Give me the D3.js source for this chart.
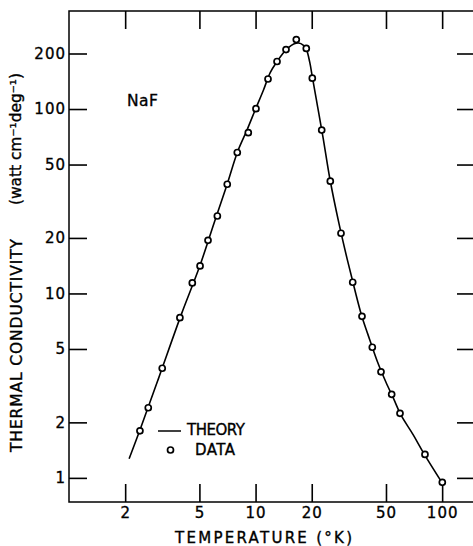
<!DOCTYPE html>
<html>
<head>
<meta charset="utf-8">
<script src="https://cdn.jsdelivr.net/npm/d3@7"></script>
<style>
	body { margin: 0; background: white; }
	text { font-family: "DejaVu Sans", sans-serif; fill: black; stroke: black; stroke-width: 0.35; }
</style>
</head>
<body>
<script>
//measured data points (temperature in K, conductivity in watt/cm/deg)
let dataT = [2.40, 2.66, 3.16, 3.93, 4.58, 5.04, 5.56, 6.24, 7.05, 7.98, 9.14, 10.05, 11.66, 13.03, 14.56, 16.53,
	18.70, 20.14, 22.62, 25.15, 28.70, 33.16, 37.19, 42.23, 47.02, 53.64, 59.45, 80.9, 100.2];
let dataK = [1.80, 2.40, 3.93, 7.39, 11.4, 14.1, 19.4, 26.3, 39.1, 58.1, 74.4, 100.4, 145.5, 181, 210, 238,
	213, 147, 76.9, 40.6, 21.2, 11.5, 7.52, 5.11, 3.76, 2.84, 2.24, 1.34, 0.946];

//theory curve
let theoryT = [2.1, 2.4, 3, 4, 5, 6, 7, 8, 9, 10, 11, 12, 13, 14, 15, 16, 17, 18, 18.7, 19.5, 20.2,
	21.5, 23, 25, 28, 31, 34, 37, 40, 45, 50, 55, 60, 70, 80, 100];
let theoryK = [1.27, 1.82, 3.4, 7.7, 13.9, 24.2, 38.4, 58.5, 77, 100, 126, 158, 180, 200, 215, 225, 228, 222, 211, 180, 147,
	103, 70, 42, 23.9, 15.3, 10.5, 7.6, 6.0, 4.26, 3.3, 2.68, 2.2, 1.71, 1.35, 0.94];

//tick values
let xTicks = [2, 5, 10, 20, 50, 100];
let yTicks = [1, 2, 5, 10, 20, 50, 100, 200];

let svg = d3.select("body").append("svg")
	.attr("width", 473)
	.attr("height", 546);

//frame of the plot (right edge runs just off the picture)
let plotLeft = 69, plotRight = 475, plotTop = 11, plotBottom = 502;

let scaleX = d3.scaleLog()
	.domain([1, 150])
	.range([plotLeft, plotRight]);

let scaleY = d3.scaleLog()
	.domain([0.74, 340])
	.range([plotBottom, plotTop]);

let tickLen = 18;

function styleAxis(g) {
	g.select(".domain").remove();
	g.selectAll(".tick line").attr("stroke", "black").attr("stroke-width", 1.6);
	g.selectAll(".tick text")
		.attr("font-size", 15)
		.attr("letter-spacing", 1)
		.attr("font-family", "DejaVu Sans, sans-serif");
}

//left axis with labels
svg.append("g")
	.attr("transform", `translate(${plotLeft}, 0)`)
	.call(d3.axisLeft(scaleY).tickValues(yTicks).tickSize(-tickLen).tickPadding(3).tickFormat(d3.format("d")))
	.call(styleAxis);

//right ticks only
svg.append("g")
	.attr("transform", `translate(${plotRight}, 0)`)
	.call(d3.axisRight(scaleY).tickValues(yTicks).tickSize(-tickLen).tickFormat(""))
	.call(styleAxis);

//bottom axis with labels
svg.append("g")
	.attr("transform", `translate(0, ${plotBottom})`)
	.call(d3.axisBottom(scaleX).tickValues(xTicks).tickSize(-tickLen).tickPadding(5).tickFormat(d3.format("d")))
	.call(styleAxis);

//top ticks only
svg.append("g")
	.attr("transform", `translate(0, ${plotTop})`)
	.call(d3.axisTop(scaleX).tickValues(xTicks).tickSize(-tickLen).tickFormat(""))
	.call(styleAxis);

svg.append("rect")
	.attr("x", plotLeft)
	.attr("y", plotTop)
	.attr("width", plotRight - plotLeft)
	.attr("height", plotBottom - plotTop)
	.attr("fill", "none")
	.attr("stroke", "black")
	.attr("stroke-width", 1.5);

//theory line
let line = d3.line()
	.x(d => scaleX(d[0]))
	.y(d => scaleY(d[1]))
	.curve(d3.curveCatmullRom);

svg.append("path")
	.datum(theoryT.map((t, i) => [t, theoryK[i]]))
	.attr("fill", "none")
	.attr("stroke", "black")
	.attr("stroke-width", 1.6)
	.attr("d", line);

//data circles
svg.selectAll("circle.data")
	.data(dataT.map((t, i) => [t, dataK[i]]))
	.enter().append("circle")
	.attr("class", "data")
	.attr("cx", d => scaleX(d[0]))
	.attr("cy", d => scaleY(d[1]))
	.attr("r", 3)
	.attr("fill", "white")
	.attr("stroke", "black")
	.attr("stroke-width", 1.7);

//axis titles
svg.append("text")
	.text("TEMPERATURE (°K)")
	.attr("x", 175)
	.attr("y", 543)
	.attr("font-size", 15)
	.attr("textLength", 177)
	.attr("lengthAdjust", "spacing");

svg.append("text")
	.text("THERMAL CONDUCTIVITY")
	.attr("transform", "translate(22, 452) rotate(-90)")
	.attr("font-size", 15.5)
	.attr("textLength", 213)
	.attr("lengthAdjust", "spacing");

svg.append("text")
	.text("(watt cm⁻¹deg⁻¹)")
	.attr("transform", "translate(21, 205) rotate(-90)")
	.attr("font-size", 15.5)
	.attr("textLength", 132)
	.attr("lengthAdjust", "spacing");

svg.append("text")
	.text("NaF")
	.attr("x", 127)
	.attr("y", 106)
	.attr("font-size", 15.5)
	.attr("letter-spacing", 0.5);

//legend
svg.append("line")
	.attr("x1", 158).attr("x2", 181)
	.attr("y1", 431).attr("y2", 431)
	.attr("stroke", "black")
	.attr("stroke-width", 1.5);

svg.append("text")
	.text("THEORY")
	.attr("x", 187)
	.attr("y", 435)
	.attr("font-size", 15)
	.attr("textLength", 58)
	.attr("lengthAdjust", "spacing");

svg.append("circle")
	.attr("cx", 170.5)
	.attr("cy", 450)
	.attr("r", 3)
	.attr("fill", "white")
	.attr("stroke", "black")
	.attr("stroke-width", 1.7);

svg.append("text")
	.text("DATA")
	.attr("x", 195)
	.attr("y", 455)
	.attr("font-size", 15)
	.attr("textLength", 40)
	.attr("lengthAdjust", "spacing");
</script>
</body>
</html>
